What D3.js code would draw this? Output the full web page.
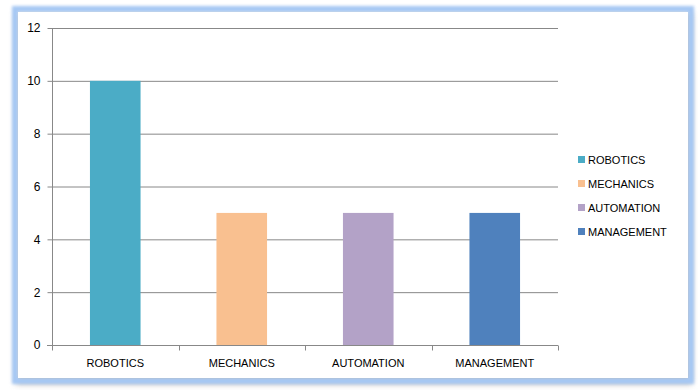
<!DOCTYPE html>
<html>
<head>
<meta charset="utf-8">
<script src="https://cdn.jsdelivr.net/npm/d3@7"></script>
<style>
  body { margin: 0; background: #fff; }
  text { font-family: "Liberation Sans", Arial, sans-serif; fill: #000; }
</style>
</head>
<body>
<div id="chart"></div>
<script>
  let categories = ["ROBOTICS", "MECHANICS", "AUTOMATION", "MANAGEMENT"]
  let values = [10, 5, 5, 5]
  let colors = ["#4bacc6", "#f9c090", "#b3a2c7", "#4f81bd"]
  let yTicks = [0, 2, 4, 6, 8, 10, 12]

  let width = 698, height = 390

  let svg = d3.select("#chart").append("svg")
    .attr("width", width)
    .attr("height", height)

  let defs = svg.append("defs")
  defs.append("filter").attr("id", "glow")
    .attr("x", "-10%").attr("y", "-10%").attr("width", "120%").attr("height", "120%")
    .append("feGaussianBlur").attr("stdDeviation", 1.6)
  defs.append("filter").attr("id", "shadow")
    .attr("x", "-10%").attr("y", "-10%").attr("width", "120%").attr("height", "120%")
    .append("feGaussianBlur").attr("stdDeviation", 3)

  // frame: grey shadow, blue glow, white card
  svg.append("rect")
    .attr("x", 16).attr("y", 12).attr("width", 676).attr("height", 372)
    .attr("fill", "#b8b8b8").attr("filter", "url(#shadow)")
  svg.append("rect")
    .attr("x", 15).attr("y", 9).attr("width", 676).attr("height", 372)
    .attr("fill", "none").attr("stroke", "#a6c8f4").attr("stroke-width", 6)
    .attr("filter", "url(#glow)")
  svg.append("rect")
    .attr("x", 18).attr("y", 12).attr("width", 670).attr("height", 366)
    .attr("fill", "#fff")

  let margin = {left: 52, right: 558, top: 28, bottom: 345}

  let x = d3.scaleBand()
    .domain(categories)
    .range([margin.left, margin.right])
    .paddingInner(0.6).paddingOuter(0.3)

  let xOuter = d3.scaleBand()
    .domain(categories)
    .range([margin.left, margin.right])

  let y = d3.scaleLinear()
    .domain([0, 12])
    .range([margin.bottom, margin.top])

  // gridlines
  svg.append("g").selectAll("line")
    .data(yTicks.filter(function(d){ return d > 0 }))
    .enter().append("line")
      .attr("x1", margin.left).attr("x2", margin.right)
      .attr("y1", function(d){ return y(d) + 0.5 })
      .attr("y2", function(d){ return y(d) + 0.5 })
      .attr("stroke", "#888").attr("stroke-width", 1)

  // bars
  svg.append("g").selectAll("rect")
    .data(values)
    .enter().append("rect")
      .attr("x", function(d, i){ return x(categories[i]) })
      .attr("width", x.bandwidth())
      .attr("y", function(d){ return y(d) })
      .attr("height", function(d){ return y(0) - y(d) })
      .attr("fill", function(d, i){ return colors[i] })

  // y axis
  let yAxis = svg.append("g")
    .attr("transform", "translate(" + (margin.left + 0.5) + ",0)")
    .call(d3.axisLeft(y).tickValues(yTicks).tickSize(5).tickPadding(7).tickFormat(d3.format("d")))
  yAxis.select(".domain").attr("stroke", "#888").attr("d", "M0," + margin.top + "V" + margin.bottom)
  yAxis.selectAll(".tick line").attr("stroke", "#888")
  yAxis.selectAll("text").style("font-size", "12px").attr("fill", "#000")

  // x axis
  let xAxis = svg.append("g")
    .attr("transform", "translate(0," + (margin.bottom + 0.5) + ")")
  xAxis.append("line")
    .attr("x1", margin.left - 5).attr("x2", margin.right)
    .attr("stroke", "#888")
  xAxis.selectAll(".xt")
    .data(categories.concat(["end"]))
    .enter().append("line")
      .attr("class", "xt")
      .attr("x1", function(d, i){ return Math.round(margin.left + i * xOuter.step()) + 0.5 })
      .attr("x2", function(d, i){ return Math.round(margin.left + i * xOuter.step()) + 0.5 })
      .attr("y1", 0).attr("y2", 5)
      .attr("stroke", "#888")
  xAxis.selectAll("text")
    .data(categories)
    .enter().append("text")
      .attr("x", function(d){ return xOuter(d) + xOuter.bandwidth() / 2 })
      .attr("y", 21)
      .attr("text-anchor", "middle")
      .style("font-size", "11px")
      .text(function(d){ return d })

  // legend
  let legend = svg.append("g").selectAll("g")
    .data(categories)
    .enter().append("g")
      .attr("transform", function(d, i){ return "translate(578," + (160 + i * 24) + ")" })
  legend.append("rect")
    .attr("x", 0).attr("y", -4).attr("width", 7).attr("height", 7)
    .attr("fill", function(d, i){ return colors[i] })
  legend.append("text")
    .attr("x", 10).attr("y", 4)
    .style("font-size", "11px")
    .text(function(d){ return d })
</script>
</body>
</html>
